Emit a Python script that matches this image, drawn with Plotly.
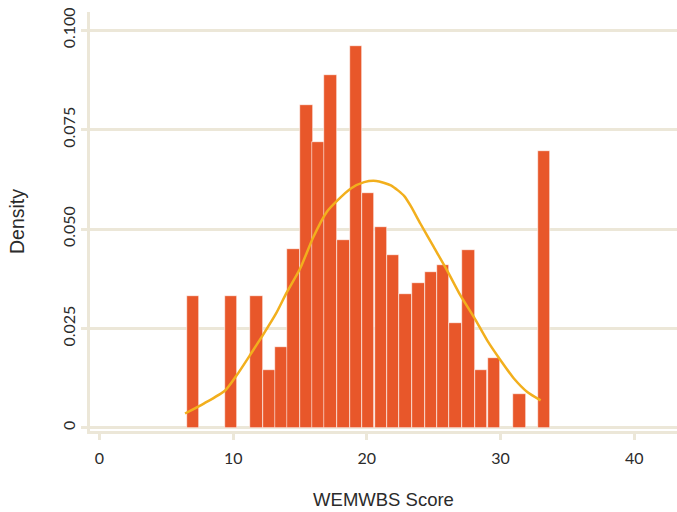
import plotly.graph_objects as go

# Histogram bins (centres) and density heights
bin_centers = [7.0, 9.85, 11.75, 12.7, 13.6, 14.5, 15.5, 16.4, 17.3, 18.25, 19.2, 20.1,
               21.05, 21.95, 22.9, 23.85, 24.8, 25.7, 26.65, 27.6, 28.55, 29.5, 31.4, 33.25]
density = [0.0331, 0.0331, 0.0331, 0.0145, 0.0203, 0.0449, 0.0811, 0.0718, 0.0887, 0.0472,
           0.0960, 0.0590, 0.0504, 0.0434, 0.0336, 0.0364, 0.0391, 0.0409, 0.0263, 0.0447,
           0.0145, 0.0175, 0.0084, 0.0696]
bin_width = 0.94

# Fitted density curve
curve_x = [6.4, 7.8, 9.4, 10.3, 11.3, 12.2, 13.2, 14.0, 15.0, 16.0, 17.0, 17.8, 18.8, 19.8,
           20.7, 21.8, 22.8, 23.3, 24.0, 25.0, 26.0, 27.0, 28.0, 29.0, 30.0, 31.0, 32.0, 33.0]
curve_y = [0.0036, 0.0061, 0.0094, 0.0134, 0.0185, 0.0232, 0.0287, 0.0340, 0.0400, 0.0480,
           0.0543, 0.0572, 0.0602, 0.0618, 0.0621, 0.0610, 0.0583, 0.0557, 0.0514, 0.0455,
           0.0396, 0.0333, 0.0279, 0.0220, 0.0170, 0.0124, 0.0090, 0.0069]

x_ticks = [0, 10, 20, 30, 40]
y_ticks = [0, 0.025, 0.05, 0.075, 0.1]
y_tick_text = ["0", "0.025", "0.050", "0.075", "0.100"]

BAR = "#E8572A"
CURVE = "#F2AF1D"
GRID = "#ECE7D8"
TEXT = "#2b2b2b"

fig = go.Figure()
fig.add_trace(go.Bar(x=bin_centers, y=density, width=bin_width,
                     marker=dict(color=BAR, line=dict(color="white", width=0.6)),
                     showlegend=False, hoverinfo="x+y"))
fig.add_trace(go.Scatter(x=curve_x, y=curve_y, mode="lines",
                         line=dict(color=CURVE, width=2.5, shape="spline", smoothing=0.6),
                         showlegend=False))

fig.update_layout(
    width=677, height=512,
    margin=dict(l=90, r=0, t=12, b=81),
    plot_bgcolor="white", paper_bgcolor="white",
    font=dict(family="Lato, Liberation Sans, sans-serif", color=TEXT, size=16),
    bargap=0,
)
fig.update_xaxes(
    range=[-0.71, 43.2], tickvals=x_ticks, showgrid=False, zeroline=False,
    automargin=False, ticklabeloverflow="allow",
    showline=True, linecolor=GRID, linewidth=2.5,
    ticks="outside", ticklen=6, tickwidth=2.5, tickcolor=GRID,
    ticklabelstandoff=5,
    tickfont=dict(family="Lato, sans-serif", size=16, color=TEXT),
    title=dict(text="WEMWBS Score", font=dict(family="Liberation Sans, Arial, sans-serif", size=18.5, color=TEXT), standoff=28),
)
fig.update_yaxes(
    range=[-0.0008, 0.1046], tickvals=y_ticks, ticktext=y_tick_text, tickangle=-90,
    automargin=False, ticklabeloverflow="allow",
    showgrid=True, gridcolor=GRID, gridwidth=2.5, zeroline=False,
    showline=True, linecolor=GRID, linewidth=2.5,
    ticks="outside", ticklen=6, tickwidth=2.5, tickcolor=GRID,
    tickfont=dict(family="Lato, sans-serif", size=16, color=TEXT),
    title=dict(text="Density", font=dict(family="Liberation Sans, Arial, sans-serif", size=19.5, color=TEXT), standoff=30),
)

fig.write_html(
    "out.html",
    config={"displayModeBar": False},
    post_script="document.body.style.margin='0px';document.body.style.overflow='hidden';",
)
